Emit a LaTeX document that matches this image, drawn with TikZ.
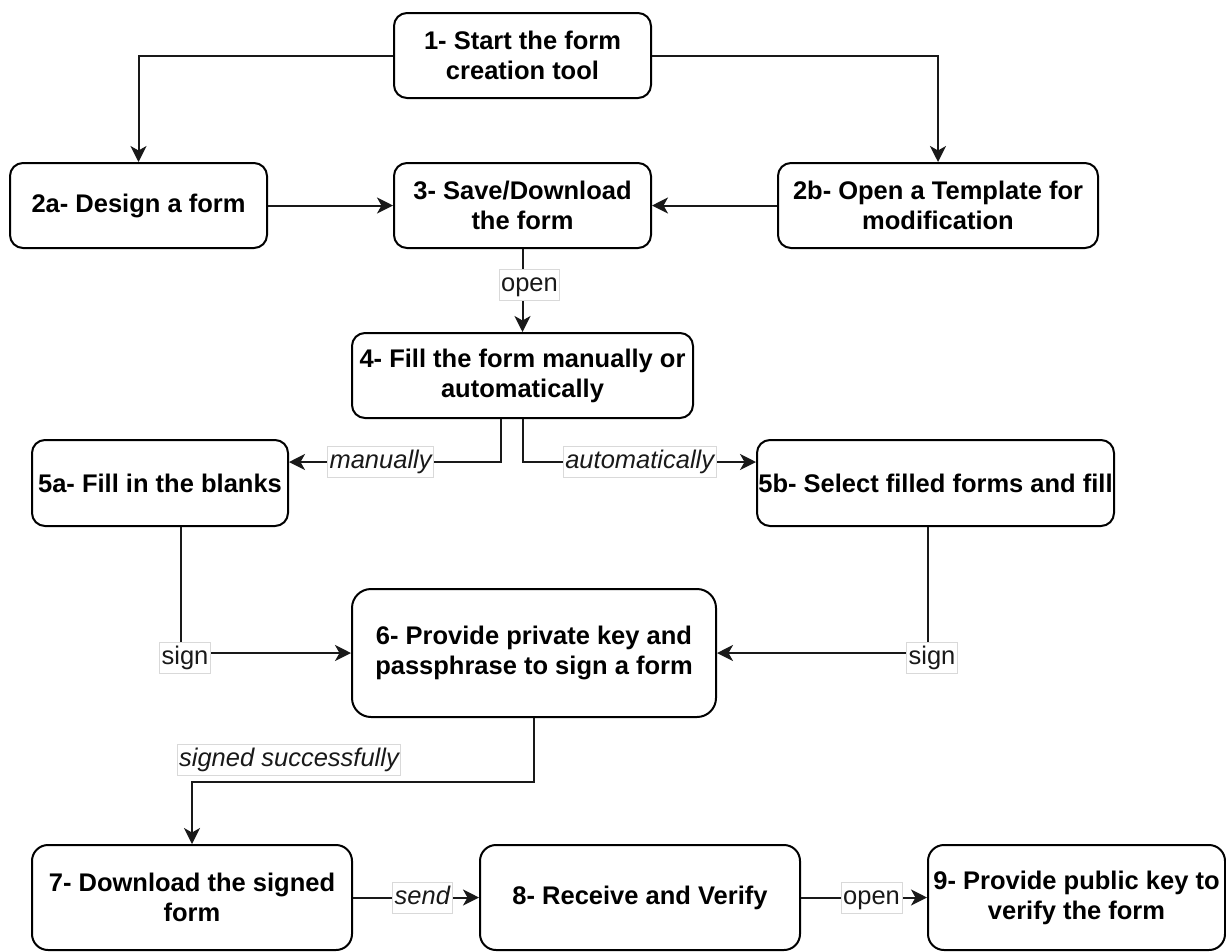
\documentclass[tikz,border=0pt]{standalone}
\usepackage{fontspec}
\setmainfont{Liberation Sans}
\usetikzlibrary{arrows.meta}
\begin{document}
\begin{tikzpicture}[x=1pt,y=-1pt,
  box/.style={draw=black, line width=2pt, rounded corners=13pt, fill=white, align=center, inner sep=0pt, font=\bfseries\fontsize{25.5}{30}\selectfont, text=black},
  arr/.style={line width=2pt, draw=black!90, -{Stealth[length=16pt,width=16pt,inset=4.5pt]}},
  lbl/.style={draw=black!15, line width=0.8pt, fill=white, inner xsep=2pt, inner ysep=3pt, text height=19pt, text depth=6pt, font=\fontsize{25.5}{30}\selectfont, text=black!90},
]
\useasboundingbox (0,0) rectangle (1226,951);

\node[box, minimum width=257pt, minimum height=85pt] (n1) at (522.5,55.5) {1- Start the form\\creation tool};
\node[box, minimum width=257pt, minimum height=85pt] (n2a) at (138.5,205.5) {2a- Design a form};
\node[box, minimum width=257pt, minimum height=85pt] (n3) at (522.5,205.5) {3- Save/Download\\the form};
\node[box, minimum width=320pt, minimum height=85pt] (n2b) at (938,205.5) {2b- Open a Template for\\modification};
\node[box, minimum width=341pt, minimum height=85pt] (n4) at (522.5,375.5) {4- Fill the form manually or\\automatically};
\node[box, minimum width=256pt, minimum height=86pt] (n5a) at (160,483) {5a- Fill in the blanks};
\node[box, minimum width=357pt, minimum height=86pt] (n5b) at (935.5,483) {5b- Select filled forms and fill};
\node[box, minimum width=364pt, minimum height=128pt, rounded corners=19pt] (n6) at (534,653) {6- Provide private key and\\passphrase to sign a form};
\node[box, minimum width=320pt, minimum height=105pt, rounded corners=16pt] (n7) at (192,897.5) {7- Download the signed\\form};
\node[box, minimum width=320pt, minimum height=105pt, rounded corners=16pt] (n8) at (640,897.5) {8- Receive and Verify};
\node[box, minimum width=297pt, minimum height=105pt, rounded corners=16pt] (n9) at (1076.5,897.5) {9- Provide public key to\\verify the form};

\draw[arr] (n1.west) -| (n2a.north);
\draw[arr] (n1.east) -| (n2b.north);
\draw[arr] (n2a.east) -- (n3.west);
\draw[arr] (n2b.west) -- (n3.east);
\draw[arr] (n3.south) -- node[lbl, pos=0.43, xshift=7pt] (lopen1) {open} (n4.north);
\draw[arr] ([xshift=-21.5pt]n4.south) |- node[lbl, pos=0.784] (lman) {\itshape manually} ([yshift=21pt]n5a.east);
\draw[arr] (n4.south) |- node[lbl, pos=0.751] (lauto) {\itshape automatically} ([yshift=21pt]n5b.west);
\draw[arr] ([xshift=21pt]n5a.south) |- node[lbl, pos=0.5, xshift=4pt, yshift=-5pt] (lsign1) {sign} (n6.west);
\draw[arr] ([xshift=-7.5pt]n5b.south) |- node[lbl, pos=0.5, xshift=4pt, yshift=-5pt] (lsign2) {sign} (n6.east);
\draw[arr] (n6.south) -- ++(0,64) -| (n7.north);
\node[lbl] (lss) at (289,760) {\itshape signed successfully};
\draw[arr] (n7.east) -- node[lbl, pos=0.55] (lsend) {\itshape send} (n8.west);
\draw[arr] (n8.east) -- node[lbl, pos=0.56] (lopen2) {open} (n9.west);
\end{tikzpicture}
\end{document}
